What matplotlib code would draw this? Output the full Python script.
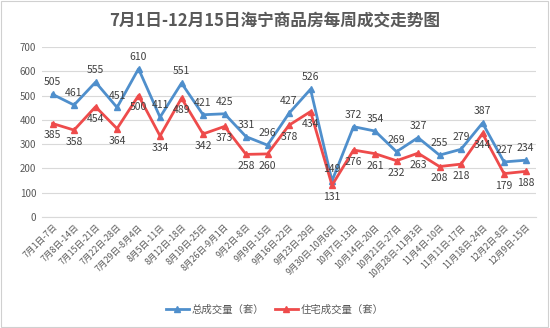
import matplotlib
matplotlib.use("Agg")
import matplotlib.pyplot as plt
from matplotlib.patches import Rectangle

plt.rcParams['font.family'] = ['Noto Sans CJK SC', 'DejaVu Sans']

categories = ["7月1日-7日", "7月8日-14日", "7月15日-21日", "7月22日-28日", "7月29日-8月4日",
              "8月5日-11日", "8月12日-18日", "8月19日-25日", "8月26日-9月1日", "9月2日-8日",
              "9月9日-15日", "9月16日-22日", "9月23日-29日", "9月30日-10月6日", "10月7日-13日",
              "10月14日-20日", "10月21日-27日", "10月28日-11月3日", "11月4日-10日", "11月11日-17日",
              "11月18日-24日", "12月2日-8日", "12月9日-15日"]
total = [505, 461, 555, 451, 610, 411, 551, 421, 425, 331, 296, 427, 526, 149, 372, 354,
         269, 327, 255, 279, 387, 227, 234]
residential = [385, 358, 454, 364, 500, 334, 489, 342, 373, 258, 260, 378, 434, 131, 276, 261,
               232, 263, 208, 218, 344, 179, 188]
yticks = [0, 100, 200, 300, 400, 500, 600, 700]
title = "7月1日-12月15日海宁商品房每周成交走势图"
name_total = "总成交量（套）"
name_res = "住宅成交量（套）"

blue = "#4F8FCC"
red = "#EE4B4B"
txt = "#404040"

fig = plt.figure(figsize=(5.5, 3.28), dpi=100)
fig.patches.append(Rectangle((0.002, 0.003), 0.995, 0.993, transform=fig.transFigure,
                             fill=False, edgecolor="#D0D0D0", linewidth=0.8))
ax = fig.add_axes([0.076, 0.338, 0.899, 0.519])

x = list(range(len(categories)))
ax.plot(x, total, color=blue, lw=2.0, marker="^", ms=5, label=name_total, zorder=3)
ax.plot(x, residential, color=red, lw=2.0, marker="^", ms=5, label=name_res, zorder=3)

for xi, v in zip(x, total):
    ax.annotate(str(v), (xi, v), xytext=(0, 5), textcoords="offset points",
                ha="center", va="bottom", fontsize=7.5, color=txt)
for xi, v in zip(x, residential):
    ax.annotate(str(v), (xi, v), xytext=(0, -5), textcoords="offset points",
                ha="center", va="top", fontsize=7.5, color=txt)

ax.set_xlim(-0.5, len(categories) - 0.5)
ax.set_ylim(0, 700)
ax.set_yticks(yticks)
ax.set_yticklabels([str(t) for t in yticks], fontsize=7, color="#595959")
ax.set_xticks(x)
ax.set_xticklabels(categories, rotation=45, ha="right", va="top", fontsize=6.3,
                   color="#595959", rotation_mode="anchor")
ax.tick_params(axis="both", length=0, pad=4)
ax.grid(axis="y", color="#D9D9D9", lw=0.8)
ax.set_axisbelow(True)
for s in ["top", "right", "left"]:
    ax.spines[s].set_visible(False)
ax.spines["bottom"].set_color("#D9D9D9")

fig.text(0.5, 0.935, title, ha="center", va="center", fontsize=12, fontweight="bold",
         color="#595959")

fig.legend(loc="center", bbox_to_anchor=(0.5, 0.055), ncol=2, frameon=False, fontsize=7.5,
           labelcolor="#595959", handlelength=2.2, columnspacing=1.0, handletextpad=0.3)

fig.savefig("out.png", dpi=100)
